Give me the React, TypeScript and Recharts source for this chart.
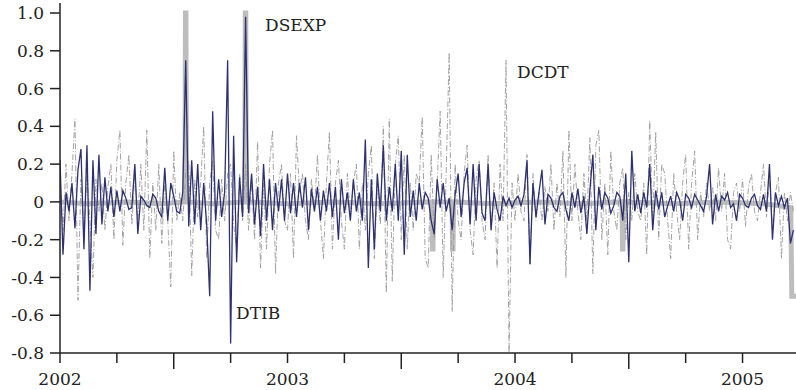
import { ComposedChart, Line, XAxis, YAxis } from "recharts";

// sampling of the daily series: 76 observations per year starting Jan 2002
const START = 2002;
const PER_YEAR = 76;
const END = 2005.235;

const DTIB = [
  0.22, -0.28, 0.05, -0.05, 0.1, -0.14, 0.17, 0.28, -0.25, 0.3,
  -0.47, 0.22, -0.17, 0.25, -0.12, 0.13, -0.05, 0.08, -0.08, 0.06,
  -0.05, 0.06, 0.02, -0.04, -0.03, 0.2, -0.17, 0.03, 0.01, -0.02,
  -0.03, 0.04, 0.02, -0.05, -0.08, 0.18, -0.1, 0.1, 0.03, -0.05,
  -0.06, 0.05, 0.75, -0.13, 0.22, -0.12, 0.2, -0.15, 0.1, -0.12,
  -0.5, 0.48, -0.1, 0.12, -0.08, 0.05, 0.75, -0.75, 0.35, -0.32,
  0.13, -0.08, 0.98, -0.06, 0.15, -0.12, 0.08, -0.18, 0.2, -0.1,
  0.12, -0.15, 0.1, -0.05, 0.12, -0.1, 0.15, -0.06, 0.1, -0.08,
  0.1, -0.03, 0.13, -0.15, 0.07, -0.05, 0.08, -0.1, 0.06, -0.05,
  0.1, -0.08, 0.08, -0.2, 0.12, -0.06, 0.05, -0.1, 0.12, -0.05,
  0.05, -0.1, 0.33, -0.35, 0.12, -0.25, 0.15, -0.05, 0.3, -0.1,
  0.08, -0.05, 0.2, -0.1, 0.27, -0.28, 0.25, -0.08, 0.06, -0.1,
  0.1, -0.04, 0.05, 0.02, -0.1, -0.17, 0.12, -0.03, 0.1, -0.05,
  0.02, -0.15, 0.04, 0.15, -0.08, 0.1, 0.18, -0.12, 0.2, -0.1,
  0.2, -0.06, -0.1, 0.2, -0.15, 0.05, -0.04, -0.1, 0.03, -0.02,
  0.02, -0.03, 0.01, 0.03, -0.02, 0.04, 0.22, -0.33, 0.1, -0.08,
  0.05, 0.17, -0.12, 0.04, 0.02, -0.03, -0.05, 0.03, 0.05, -0.04,
  -0.1, 0.05, -0.03, 0.07, -0.06, 0.03, -0.17, 0.06, 0.25, -0.15,
  0.08, -0.04, 0.05, 0.02, -0.06, -0.02, 0.05, 0.03, -0.1, 0.15,
  -0.32, 0.27, -0.05, 0.04, -0.06, 0.05, -0.03, 0.2, -0.15, 0.06,
  -0.04, 0.05, -0.08, -0.02, 0.03, -0.05, 0.05, 0.01, -0.1, 0.04,
  0.02, -0.03, 0.04, 0.01, -0.02, -0.05, 0.03, 0.2, -0.12, 0.04,
  -0.05, 0.03, 0.01, 0.05, -0.03, -0.01, -0.1, 0.04, 0.02, -0.02,
  -0.03, 0.02, 0.04, -0.02, -0.04, 0.04, -0.05, 0.2, -0.2, 0.05,
  -0.02, 0.03, -0.03, 0.02, -0.22, -0.15,
];

const DCDT = [
  0.1, -0.15, 0.2, -0.1, 0.15, 0.44, -0.52, 0.12, -0.2, 0.15,
  -0.1, -0.4, 0.12, -0.05, 0.1, -0.15, 0.08, 0.2, -0.2, 0.22,
  0.38, -0.23, 0.1, 0.25, -0.12, 0.15, -0.1, 0.2, -0.15, 0.38,
  -0.3, 0.1, -0.15, 0.2, -0.22, 0.1, -0.1, -0.45, 0.27, -0.1,
  0.05, -0.1, 0.15, 0.22, -0.39, 0.12, -0.08, 0.1, 0.4, -0.3,
  0.1, 0.22, -0.15, -0.2, 0.12, -0.1, 0.15, 0.2, -0.12, -0.25,
  0.15, -0.1, 0.2, -0.15, 0.1, -0.2, 0.32, -0.35, 0.1, -0.25,
  0.2, 0.38, -0.38, 0.1, 0.2, -0.1, -0.15, 0.15, -0.3, 0.35,
  0.05, 0.15, -0.1, -0.2, 0.12, -0.05, 0.25, -0.1, -0.3, 0.1,
  0.37, -0.25, 0.1, 0.22, -0.1, -0.25, 0.15, -0.08, 0.1, 0.2,
  -0.25, 0.1, -0.15, 0.15, 0.3, -0.3, 0.1, -0.12, 0.4, -0.48,
  0.44, -0.42, 0.2, 0.35, -0.2, 0.25, -0.25, 0.1, -0.15, 0.15,
  0.1, 0.45, -0.3, -0.35, 0.25, -0.2, 0.1, 0.48, -0.4, 0.15,
  0.79, -0.58, 0.2, -0.1, -0.2, 0.15, 0.3, -0.15, -0.28, 0.12,
  0.22, -0.1, -0.2, 0.25, -0.15, 0.1, -0.35, 0.2, -0.1, 0.75,
  -0.8, 0.1, -0.1, 0.15, -0.05, -0.1, 0.25, -0.33, 0.15, -0.1,
  0.05, -0.1, 0.08, -0.05, 0.2, -0.15, 0.1, -0.08, 0.27, -0.4,
  0.38, -0.1, 0.2, -0.05, -0.2, 0.15, -0.1, 0.34, -0.38, 0.3,
  0.38, -0.2, 0.1, -0.28, 0.27, -0.05, -0.15, 0.1, 0.18, -0.2,
  0.05, -0.1, 0.15, -0.05, -0.1, 0.1, -0.28, 0.43, -0.1, 0.37,
  -0.2, 0.2, 0.15, -0.1, -0.3, 0.15, -0.05, -0.2, 0.1, 0.25,
  -0.25, 0.1, 0.27, -0.2, 0.05, -0.08, 0.1, -0.05, 0.08, -0.1,
  0.18, -0.05, 0.15, -0.2, -0.25, 0.05, 0.1, -0.05, 0.12, -0.13,
  0.08, 0.15, -0.05, -0.1, 0.05, 0.2, -0.08, 0.12, -0.15, 0.05,
  0.13, -0.3, 0.05, -0.1, 0.05, -0.05,
];

// DSEXP is flat most of the time, with a handful of short jumps
const DSEXP_DATES = [
  2002.0, 2002.12, 2002.3, 2002.45, 2002.549, 2002.5515, 2002.5535, 2002.556,
  2002.68, 2002.812, 2002.8145, 2002.8165, 2002.819, 2003.0, 2003.2, 2003.4,
  2003.635, 2003.6375, 2003.6395, 2003.642, 2003.723, 2003.7255, 2003.7275,
  2003.73, 2003.9, 2004.1, 2004.3, 2004.47, 2004.4725, 2004.4745, 2004.477,
  2004.7, 2004.9, 2005.1, 2005.212, 2005.2165, 2005.235,
];
const DSEXP = [
  0, -0.01, 0, -0.01, 0, 1, 1, 0,
  -0.01, 0, 1, 1, 0, -0.01, 0, -0.01,
  0, -0.25, -0.25, 0, 0, -0.25, -0.25,
  0, -0.01, 0, -0.01, 0, -0.25, -0.25, 0,
  -0.01, 0, -0.01, -0.03, -0.5, -0.5,
];

const X_TICKS = [
  2002, 2002.25, 2002.5, 2002.75, 2003, 2003.25, 2003.5, 2003.75,
  2004, 2004.25, 2004.5, 2004.75, 2005,
];
const Y_TICKS = [-0.8, -0.6, -0.4, -0.2, 0, 0.2, 0.4, 0.6, 0.8, 1.0];

const dtibData = DTIB.map((v, i) => ({ t: START + i / PER_YEAR, v }));
const dcdtData = DCDT.map((v, i) => ({ t: START + i / PER_YEAR, v }));
const dsexpData = DSEXP.map((v, i) => ({ t: DSEXP_DATES[i], v }));

const FONT = "'DejaVu Serif', serif";
const INK = "#222";

function QuarterTick(props: any) {
  const { x, y, payload } = props;
  const v = payload.value as number;
  const q = Math.round((v - Math.floor(v)) * 4);
  const len = q === 2 ? 16 : 10;
  return (
    <g>
      <line x1={x} x2={x} y1={y} y2={y + len} stroke={INK} strokeWidth={1.5} />
      {q === 0 && (
        <text x={x} y={y + 32} textAnchor="middle" fontFamily={FONT} fontSize={17} fill={INK}>
          {Math.round(v)}
        </text>
      )}
    </g>
  );
}

function ValueTick(props: any) {
  const { x, y, payload } = props;
  const v = payload.value as number;
  const label = Math.abs(v) < 1e-9 ? "0" : v.toFixed(1);
  return (
    <g>
      <line x1={x - 10} x2={x} y1={y} y2={y} stroke={INK} strokeWidth={1.5} />
      <text x={x - 16} y={y} dy="0.36em" textAnchor="end" fontFamily={FONT} fontSize={17} fill={INK}>
        {label}
      </text>
    </g>
  );
}

export default function App() {
  return (
    <div style={{ position: "absolute", left: 0, top: 0, width: 796, height: 390, background: "#fff" }}>
      <ComposedChart width={796} height={390} margin={{ top: 3, right: 0, bottom: 0, left: 0 }}>
        <XAxis
          type="number"
          dataKey="t"
          domain={[START, END]}
          ticks={X_TICKS}
          allowDataOverflow
          height={37}
          tickSize={0}
          tickMargin={0}
          tick={<QuarterTick />}
          axisLine={{ stroke: INK, strokeWidth: 1.5 }}
          tickLine={false}
        />
        <YAxis
          type="number"
          domain={[-0.8, 1.053]}
          ticks={Y_TICKS}
          allowDataOverflow
          width={60}
          tickSize={0}
          tickMargin={0}
          tick={<ValueTick />}
          axisLine={{ stroke: INK, strokeWidth: 1.5 }}
          tickLine={false}
        />
        <Line
          data={dsexpData}
          dataKey="v"
          type="linear"
          stroke="#bdbdbd"
          strokeWidth={5}
          strokeLinejoin="miter"
          dot={false}
          isAnimationActive={false}
        />
        <Line
          data={dcdtData}
          dataKey="v"
          type="linear"
          stroke="#999"
          strokeWidth={0.9}
          strokeDasharray="6 2 1 2"
          dot={false}
          isAnimationActive={false}
        />
        <Line
          data={dtibData}
          dataKey="v"
          type="linear"
          stroke="#2e3070"
          strokeWidth={1.3}
          dot={false}
          isAnimationActive={false}
        />
      </ComposedChart>
      <svg width={796} height={390} style={{ position: "absolute", left: 0, top: 0, pointerEvents: "none" }}>
        <g fontFamily={FONT} fontSize={17} fill={INK}>
          <text x={265} y={31}>DSEXP</text>
          <text x={236} y={319}>DTIB</text>
          <text x={517} y={78}>DCDT</text>
        </g>
      </svg>
    </div>
  );
}
